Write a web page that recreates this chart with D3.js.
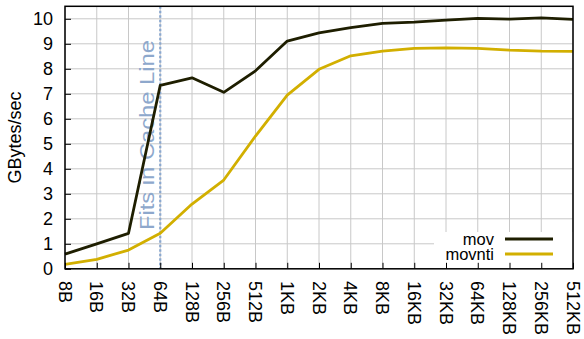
<!DOCTYPE html>
<html lang="en">
<head>
<meta charset="utf-8">
<title>mov vs movnti</title>
<script src="https://cdn.jsdelivr.net/npm/d3@7"></script>
<style>
  body { margin: 0; background: #fff; }
  text { font-family: "Liberation Sans", Arial, sans-serif; }
</style>
</head>
<body>
<script>
// data
var sizes = ["8B","16B","32B","64B","128B","256B","512B","1KB","2KB","4KB","8KB",
             "16KB","32KB","64KB","128KB","256KB","512KB"];
var mov    = [0.59,1.0,1.42,7.34,7.64,7.06,7.92,9.11,9.44,9.65,9.82,9.87,9.95,10.02,9.99,10.04,9.98];
var movnti = [0.18,0.38,0.75,1.42,2.59,3.55,5.31,6.95,7.98,8.52,8.71,8.82,8.84,8.82,8.75,8.71,8.70];
var yTicks = [0,1,2,3,4,5,6,7,8,9,10];
var cacheLine = "64B";

var W = 584, H = 339;
// plot box (note: "top" is a reserved window property, so use pTop etc.)
var pLeft = 65, pRight = 573, pTop = 6.3, pBottom = 268.8;

var svg = d3.select("body").append("svg")
    .attr("width", W).attr("height", H);

var x = d3.scalePoint().domain(sizes).range([pLeft, pRight]);
var y = d3.scaleLinear().domain([0, 10.5]).range([pBottom, pTop]);

// grid
svg.append("g").selectAll("line").data(sizes).enter().append("line")
   .attr("x1", function(d){return x(d);}).attr("x2", function(d){return x(d);})
   .attr("y1", pTop).attr("y2", pBottom)
   .attr("stroke", "#c8c8c8").attr("stroke-width", 1);
svg.append("g").selectAll("line").data(yTicks).enter().append("line")
   .attr("x1", pLeft).attr("x2", pRight)
   .attr("y1", function(d){return y(d);}).attr("y2", function(d){return y(d);})
   .attr("stroke", "#c8c8c8").attr("stroke-width", 1);

// cache line marker
svg.append("line")
   .attr("x1", x(cacheLine)).attr("x2", x(cacheLine))
   .attr("y1", pTop).attr("y2", pBottom)
   .attr("stroke", "#8aa8d0").attr("stroke-width", 2.2)
   .attr("stroke-dasharray", "2.5,2");
svg.append("text")
   .attr("transform", "translate(" + (x(cacheLine) - 6) + "," + 230 + ") rotate(-90)")
   .attr("font-size", 21).attr("fill", "#8ea8cc")
   .attr("textLength", 190).attr("lengthAdjust", "spacingAndGlyphs")
   .text("Fits in Cache Line");

// lines
var line = d3.line()
    .x(function(d, i){return x(sizes[i]);})
    .y(function(d){return y(d);});

svg.append("path").datum(movnti).attr("d", line)
   .attr("fill", "none").attr("stroke", "#d2af00").attr("stroke-width", 2.8)
   .attr("stroke-linejoin", "round");
svg.append("path").datum(mov).attr("d", line)
   .attr("fill", "none").attr("stroke", "#1e1e00").attr("stroke-width", 2.8)
   .attr("stroke-linejoin", "round");

// legend
svg.append("rect").attr("x", 434).attr("y", 232).attr("width", pRight - 434).attr("height", pBottom - 232)
   .attr("fill", "#fff");
var legend = [["mov", "#1e1e00"], ["movnti", "#d2af00"]];
legend.forEach(function(l, i) {
  var ly = 239 + i * 15;
  svg.append("text").attr("x", 494).attr("y", ly + 5.5)
     .attr("text-anchor", "end").attr("font-size", 16.5).attr("fill", "#000")
     .text(l[0]);
  svg.append("line").attr("x1", 505).attr("x2", 553).attr("y1", ly).attr("y2", ly)
     .attr("stroke", l[1]).attr("stroke-width", 2.8);
});

// axes
var xAxis = d3.axisBottom(x).tickSizeInner(-6).tickSizeOuter(0).tickPadding(0).tickFormat("");
var yAxis = d3.axisLeft(y).tickValues(yTicks).tickSizeInner(-6).tickSizeOuter(0).tickPadding(12);

var gx = svg.append("g").attr("transform", "translate(0," + pBottom + ")").call(xAxis);
gx.select(".domain").remove();
gx.selectAll("line").attr("stroke", "#000");

svg.append("g").selectAll("text").data(sizes).enter().append("text")
   .attr("transform", function(d){return "translate(" + x(d) + "," + 281 + ") rotate(90)";})
   .attr("dy", "0.35em").attr("font-size", 18).attr("fill", "#000")
   .text(function(d){return d;});

var gy = svg.append("g").attr("transform", "translate(" + pLeft + ",0)").call(yAxis);
gy.select(".domain").remove();
gy.selectAll("line").attr("stroke", "#000");
gy.selectAll("text").attr("font-size", 18).attr("font-family", "Liberation Sans, Arial, sans-serif")
   .attr("fill", "#000");

// frame
svg.append("rect").attr("x", pLeft).attr("y", pTop).attr("width", pRight - pLeft).attr("height", pBottom - pTop)
   .attr("fill", "none").attr("stroke", "#000").attr("stroke-width", 1.5);

svg.append("text")
   .attr("transform", "translate(" + 21 + "," + ((pTop + pBottom) / 2) + ") rotate(-90)")
   .attr("text-anchor", "middle").attr("font-size", 18).attr("fill", "#000")
   .text("GBytes/sec");
</script>
</body>
</html>
